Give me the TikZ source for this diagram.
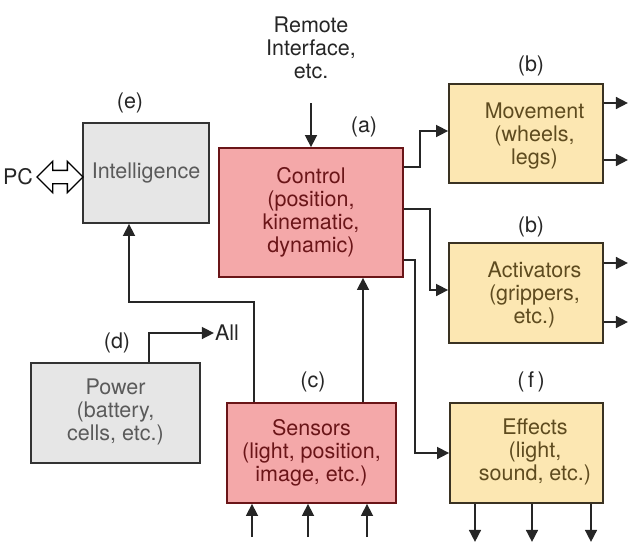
\documentclass[tikz,border=0pt]{standalone}
\usepackage{fontspec}
\setmainfont{TeX Gyre Heros}
\usetikzlibrary{arrows.meta,shapes.arrows}
\definecolor{greyfill}{HTML}{E6E6E6}
\definecolor{greytext}{HTML}{5A5A5A}
\definecolor{pinkfill}{HTML}{F4A8A9}
\definecolor{pinkline}{HTML}{6A1518}
\definecolor{yellowfill}{HTML}{FCE7B2}
\definecolor{yellowline}{HTML}{3A3222}
\definecolor{yellowtext}{HTML}{5E4B1F}
\begin{document}
\begin{tikzpicture}
        [x=1pt,y=-1pt,every node/.style={font=\fontsize{21.5}{23}\selectfont,align=center,text=black!85},
        box/.style={draw,line width=1.8pt,inner sep=0},
        greybox/.style={box,fill=greyfill,draw=black!80,text=greytext},
        pinkbox/.style={box,fill=pinkfill,draw=pinkline,text=pinkline},
        yellowbox/.style 2 args={box,fill=yellowfill,draw=yellowline,label={[text=yellowtext,xshift=8.5pt,yshift=#2]center:#1}},
        link/.style={-{Triangle[length=12pt,width=12pt]},line width=1.6pt,black!85}]

        \useasboundingbox (0,0) rectangle (628,555);

        \node[greybox,minimum width=126pt,minimum height=100pt] (intel) at (146,173) {Intelligence};
        \node[pinkbox,minimum width=184pt,minimum height=129pt] (ctrl) at (311,212.5) {Control\\(position,\\kinematic,\\dynamic)};
        \node[yellowbox={Movement\\(wheels,\\legs)}{-3pt},minimum width=154pt,minimum height=99pt] (move) at (526,133.5) {};
        \node[yellowbox={Activators\\(grippers,\\etc.)}{-2pt},minimum width=154pt,minimum height=100pt] (act) at (526,293) {};
        \node[yellowbox={Effects\\(light,\\sound, etc.)}{1pt},minimum width=153pt,minimum height=100pt] (eff) at (526.5,453) {};
        \node[pinkbox,minimum width=169pt,minimum height=100pt] (sens) at (311.5,453) {Sensors\\(light, position,\\image, etc.)};
        \node[greybox,minimum width=169pt,minimum height=100pt,label={[text=greytext,yshift=1pt]center:Power\\(battery,\\cells, etc.)}] (pow) at (115.5,413) {};

        \node (remote) at (311,48) {Remote\\Interface,\\etc.};
        \node (pc) at (18,177) {PC};
        \node[double arrow,draw,fill=white,line width=1.3pt,minimum height=46pt,inner sep=6pt,double arrow head extend=9pt] (pclink) at (60,177) {};
        \node[inner sep=1pt] (all) at (227,333) {All};

        \node (la) at (364,127) {(a)};
        \node (lb1) at (531,66) {(b)};
        \node (lb2) at (531,227) {(b)};
        \node (lc) at (313,382) {(c)};
        \node (ld) at (117,343) {(d)};
        \node (le) at (130,103) {(e)};
        \node (lf) at (531,382) {(\,f\,)};

        \coordinate (rin) at (311,103);

        \draw[link] (rin) -- (ctrl.north);
        \draw[link] (ctrl.east |- 0,167) -| (420,131) -- (move.west |- 0,131);
        \draw[link] (ctrl.east |- 0,209) -| (430,290) -- (act.west |- 0,290);
        \draw[link] (ctrl.east |- 0,260) -| (415,453) -- (eff.west);
        \draw[link] (sens.north -| 363,0) -- (ctrl.south -| 363,0);
        \draw[link] (sens.north -| 254,0) |- (129,302) -- (intel.south -| 129,0);
        \draw[link] (pow.north -| 149,0) |- (all.west);
        \draw[link] (move.east |- 0,103) -- ++(24,0);
        \draw[link] (move.east |- 0,160) -- ++(24,0);
        \draw[link] (act.east |- 0,263) -- ++(24,0);
        \draw[link] (act.east |- 0,322) -- ++(24,0);
        \draw[link] (eff.south -| 475,0) -- ++(0,38);
        \draw[link] (eff.south -| 532,0) -- ++(0,38);
        \draw[link] (eff.south -| 591,0) -- ++(0,38);
        \draw[link] (252,537) -- (sens.south -| 252,0);
        \draw[link] (308,537) -- (sens.south -| 308,0);
        \draw[link] (367,537) -- (sens.south -| 367,0);
      \end{tikzpicture}
\end{document}
